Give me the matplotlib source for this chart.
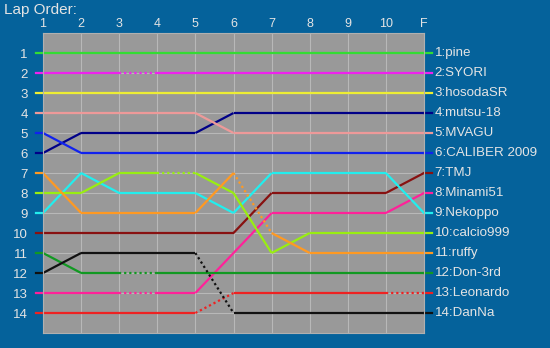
import matplotlib
matplotlib.use("Agg")
import matplotlib.pyplot as plt
import numpy as np

plt.rcParams["font.family"] = ["Liberation Sans", "DejaVu Sans"]

# lap labels along the top
laps = ["1", "2", "3", "4", "5", "6", "7", "8", "9", "10", "F"]

# final-order labels on the right
drivers = ["pine", "SYORI", "hosodaSR", "mutsu-18", "MVAGU", "CALIBER 2009", "TMJ",
           "Minami51", "Nekoppo", "calcio999", "ruffy", "Don-3rd", "Leonardo", "DanNa"]

colors = ["#33dd33", "#ee22ee", "#eeee33", "#000088", "#ee9999", "#1122ee", "#881111",
          "#ff2299", "#22eeee", "#99ee11", "#ff9922", "#119922", "#ee2222", "#111111"]

# position at each lap (1..10, F)
positions = [
    [1, 1, 1, 1, 1, 1, 1, 1, 1, 1, 1],
    [2, 2, 2, 2, 2, 2, 2, 2, 2, 2, 2],
    [3, 3, 3, 3, 3, 3, 3, 3, 3, 3, 3],
    [6, 5, 5, 5, 5, 4, 4, 4, 4, 4, 4],
    [4, 4, 4, 4, 4, 5, 5, 5, 5, 5, 5],
    [5, 6, 6, 6, 6, 6, 6, 6, 6, 6, 6],
    [10, 10, 10, 10, 10, 10, 8, 8, 8, 8, 7],
    [13, 13, 13, 13, 13, 11, 9, 9, 9, 9, 8],
    [9, 7, 8, 8, 8, 9, 7, 7, 7, 7, 9],
    [8, 8, 7, 7, 7, 8, 11, 10, 10, 10, 10],
    [7, 9, 9, 9, 9, 7, 10, 11, 11, 11, 11],
    [11, 12, 12, 12, 12, 12, 12, 12, 12, 12, 12],
    [14, 14, 14, 14, 14, 13, 13, 13, 13, 13, 13],
    [12, 11, 11, 11, 11, 14, 14, 14, 14, 14, 14],
]

# segments drawn dotted (index of lap where the segment starts, 0-based)
dotted = {
    "SYORI": [2],
    "calcio999": [3],
    "Don-3rd": [2],
    "Minami51": [2],
    "Leonardo": [4, 9],
    "DanNa": [4],
    "ruffy": [5],
}

BG = "#05629b"
TXT = "#e4e4e4"

fig = plt.figure(figsize=(5.5, 3.48), dpi=100, facecolor=BG)
ax = fig.add_axes([43 / 550, 1 - 333 / 348, 381 / 550, 300 / 348])
ax.set_facecolor("#999999")

x = np.arange(1, len(laps) + 1)
for name, col, pos in zip(drivers, colors, positions):
    dots = dotted.get(name, [])
    for i in range(len(x) - 1):
        ls = (0, (1, 1.3)) if i in dots else "-"
        ax.plot(x[i:i + 2], pos[i:i + 2], color=col, lw=1.6, ls=ls,
                solid_capstyle="butt")
    # stubs outside the plot area
    ax.plot([0.82, 1], [pos[0]] * 2, color=col, lw=1.6, clip_on=False)
    ax.plot([11, 11.22], [pos[-1]] * 2, color=col, lw=1.6, clip_on=False)

# labels on the right, in final order
order = sorted(range(len(drivers)), key=lambda k: positions[k][-1])
for k in order:
    p = positions[k][-1]
    ax.text(11.28, p, f"{p}:{drivers[k]}", color=TXT, fontsize=9.6,
            va="center", ha="left", clip_on=False)

ax.set_xlim(1, 11)
ax.set_ylim(15, 0)
ax.set_xticks(x)
ax.set_xticklabels(laps)
ax.set_yticks(range(1, 15))
ax.xaxis.tick_top()
ax.tick_params(axis="x", length=0, pad=2, colors=TXT, labelsize=9)
ax.tick_params(axis="y", length=0, pad=11, colors=TXT, labelsize=9.5)
ax.grid(True, color="#b8b8b8", lw=0.8)
ax.set_axisbelow(True)
for s in ax.spines.values():
    s.set_color("#b0b0b0")
    s.set_linewidth(0.8)

fig.text(4 / 550, 1 - 10 / 348, "Lap Order:", color=TXT, fontsize=11,
         va="center", ha="left")

fig.savefig("out.png", dpi=100, facecolor=BG)
